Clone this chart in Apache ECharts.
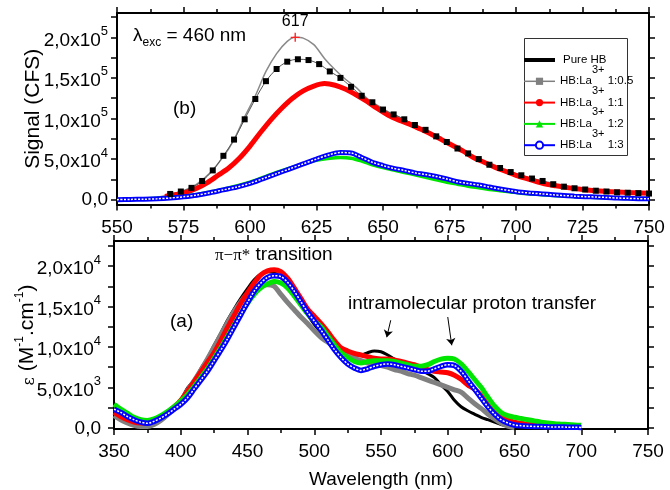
<!DOCTYPE html>
<html>
<head>
<meta charset="utf-8">
<title>HB:La3+ absorption / emission</title>
<script src="https://cdn.jsdelivr.net/npm/echarts@6.0.0/dist/echarts.min.js"></script>
<style>
  html, body { margin: 0; padding: 0; background: #fff; }
  #chart { width: 670px; height: 490px; }
</style>
</head>
<body>
<div id="chart"></div>
<script>
// ---- panel (b): emission, lambda exc = 460 nm ----
const emGrayX = [565, 570, 575, 580, 585, 590, 594, 598, 602, 606, 610, 614, 617, 620, 624, 628, 632, 636, 640, 644, 648, 652, 656, 660, 664, 668, 672, 676, 680, 684, 688, 692, 696, 700, 705, 710, 715, 720, 725, 730, 740, 750];
const emGrayY = [3000, 6000, 11000, 19000, 33000, 53000, 74000, 102000, 128000, 158000, 180000, 195000, 200000, 199000, 191000, 174000, 160000, 148000, 138000, 125000, 116000, 108000, 102000, 95000, 89000, 82000, 74000, 67000, 60000, 53000, 46000, 41000, 36000, 32000, 27000, 23000, 19000, 15000, 13000, 11000, 9000, 7500];

const emSqX = [570, 574, 578, 582, 586, 590, 594, 598, 602, 606, 610, 614, 618, 622, 626, 630, 634, 638, 642, 646, 650, 654, 658, 662, 666, 670, 674, 678, 682, 686, 690, 694, 698, 702, 706, 710, 714, 718, 722, 726, 730, 734, 738, 742, 746, 750];
const emSqY = [7000, 10000, 14500, 23000, 36000, 54000, 74000, 99000, 124000, 146000, 161000, 170000, 173000, 172000, 167000, 158000, 150000, 139000, 128000, 120000, 111000, 105000, 99000, 92000, 86000, 78000, 71000, 63000, 57000, 50000, 43000, 39000, 34000, 30000, 26000, 23000, 19000, 16000, 14000, 12500, 11000, 10000, 9000, 8500, 8000, 7500];

const emRedX = [568, 572, 576, 580, 584, 588, 592, 596, 600, 604, 608, 612, 616, 620, 624, 628, 632, 636, 640, 644, 648, 652, 656, 660, 664, 668, 672, 676, 680, 684, 688, 692, 696, 700, 705, 710, 715, 720, 725, 730, 740, 750];
const emRedY = [4000, 6000, 9000, 14000, 21000, 30000, 39000, 51000, 66000, 83000, 99000, 113000, 125000, 134000, 140000, 143000, 141000, 136000, 129000, 121000, 112000, 104000, 98000, 93000, 87000, 81000, 74000, 67000, 60000, 52000, 46000, 40000, 35000, 30000, 25000, 20000, 17000, 14500, 12500, 11000, 9000, 8000];

const emGreenX = [550, 560, 570, 580, 590, 600, 610, 620, 625, 630, 634, 638, 642, 646, 650, 654, 658, 662, 666, 670, 674, 678, 682, 686, 690, 694, 698, 702, 706, 710, 718, 726, 734, 742, 750];
const emGreenY = [0, 700, 2500, 6500, 13000, 21500, 33500, 44000, 48500, 51000, 52000, 51000, 47500, 43000, 39500, 36500, 33500, 30500, 27500, 24500, 21500, 19000, 16500, 14500, 12500, 11000, 9500, 8000, 7000, 6000, 4500, 3200, 2200, 1400, 900];

const emBlueX = [550, 555, 560, 565, 570, 575, 580, 585, 590, 595, 600, 605, 610, 615, 620, 625, 630, 634, 638, 642, 646, 650, 654, 658, 662, 666, 670, 674, 678, 682, 686, 690, 694, 698, 702, 706, 710, 714, 718, 722, 726, 730, 734, 738, 742, 746, 750];
const emBlueY = [0, 300, 500, 1000, 2000, 3500, 5500, 8500, 12000, 15500, 20000, 26000, 32000, 38000, 44000, 50000, 55500, 58000, 57500, 52000, 46000, 42000, 38500, 36000, 33000, 31000, 28500, 25500, 22000, 20000, 18000, 15500, 13000, 11000, 9000, 8000, 7000, 6000, 5000, 4300, 3700, 3200, 2700, 2000, 1600, 1200, 1000];

// ---- panel (a): absorption, epsilon ----
const abX = [350, 355, 360, 365, 370, 375, 380, 385, 390, 395, 400, 405, 410, 415, 420, 425, 430, 435, 440, 445, 450, 455, 460, 465, 470, 475, 480, 485, 490, 495, 500, 505, 510, 515, 520, 525, 530, 535, 540, 545, 550, 555, 560, 565, 570, 575, 580, 585, 590, 595, 600, 605, 610, 615, 620, 625, 630, 635, 640, 645, 650, 655, 660, 665, 670, 675, 680, 685, 690, 695, 700];
const abBlack = [1800, 1300, 900, 600, 400, 350, 500, 900, 1600, 2400, 3400, 4900, 5900, 7300, 8600, 10200, 11700, 13300, 14700, 16000, 17200, 18300, 19000, 19300, 19200, 18600, 17700, 16500, 15300, 14000, 12800, 11800, 10900, 10200, 9600, 9200, 9000, 9000, 9300, 9500, 9400, 9000, 8500, 8100, 7700, 7400, 7100, 6700, 6200, 5300, 4500, 3400, 2600, 2100, 1700, 1300, 1000, 700, 400, 200, 80, 0];
const abGray = [1500, 1000, 600, 300, 150, 150, 400, 900, 1600, 2400, 3300, 4600, 5800, 7100, 8500, 10000, 11500, 13000, 14400, 15600, 16600, 17200, 17600, 17700, 17500, 16500, 15500, 14600, 13700, 12900, 12000, 11200, 10600, 10000, 9400, 9000, 8600, 8300, 8000, 7800, 7700, 7500, 7200, 7000, 6700, 6500, 6200, 5900, 5600, 5300, 5000, 4700, 4400, 3700, 3000, 2400, 1700, 1100, 600, 200, 0];
const abRed = [1900, 1400, 1000, 700, 600, 600, 900, 1300, 1900, 2600, 3400, 4500, 5700, 6900, 8100, 9300, 10800, 12400, 13900, 15400, 16700, 17900, 18900, 19400, 19550, 19300, 18500, 17300, 16000, 14700, 13800, 12900, 11900, 10800, 9900, 9500, 9200, 9000, 8800, 8600, 8500, 8500, 8400, 8200, 8000, 7800, 7500, 7200, 7000, 6900, 6800, 6500, 6000, 5300, 4800, 4000, 3100, 2200, 1500, 1000, 700, 550, 450, 350, 300, 250, 200, 180, 150, 100, 50];
const abGreen = [2900, 2300, 1800, 1300, 1000, 900, 1100, 1500, 2000, 2600, 3300, 4100, 5100, 6200, 7300, 8600, 9900, 11300, 12700, 14100, 15400, 16500, 17300, 17800, 18100, 17900, 17300, 16300, 15200, 14100, 13200, 12500, 11400, 10300, 9300, 8700, 8200, 8000, 8200, 8300, 8300, 8300, 8200, 8000, 7800, 7600, 7600, 7800, 8200, 8500, 8600, 8500, 7900, 7000, 6000, 5000, 3800, 2700, 1900, 1500, 1300, 1150, 1000, 850, 700, 600, 500, 450, 400, 350, 300];
const abBlue = [2300, 1900, 1400, 1000, 700, 550, 800, 1200, 1700, 2300, 2900, 3700, 4800, 5900, 7000, 8300, 9600, 11000, 12500, 14000, 15500, 16900, 17900, 18600, 18800, 18700, 18000, 16900, 15600, 14300, 13200, 12100, 10900, 9700, 8700, 7900, 7400, 7100, 7300, 7600, 7800, 7900, 7800, 7600, 7400, 7200, 7000, 7000, 7300, 7600, 7800, 7700, 7000, 5900, 4800, 3700, 2600, 1700, 1000, 600, 350, 250, 200, 170, 150, 120, 100, 90, 80, 60, 50];

// tick positions
const emYTicks = [0, 25000, 50000, 75000, 100000, 125000, 150000, 175000, 200000, 225000];
const emYLabels = [0, 50000, 100000, 150000, 200000];
const abYTicks = [0, 2500, 5000, 7500, 10000, 12500, 15000, 17500, 20000, 22500];
const abYLabels = [0, 5000, 10000, 15000, 20000];

const FONT = 'Liberation Sans';
const zip = (xs, ys) => ys.map((y, i) => [xs[i], y]);

// superscript: small token pinned to the top of a taller line box
const richLabel = {
    b: { fontSize: 19, lineHeight: 20, verticalAlign: 'bottom', fontFamily: FONT, color: '#000' },
    s: { fontSize: 13, lineHeight: 25, verticalAlign: 'top', fontFamily: FONT, color: '#000' }
};

function sciLabel(v) {
    if (v === 0) return '{b|0,0}';
    const e = Math.floor(Math.log10(v) + 1e-9);
    const m = v / Math.pow(10, e);
    return '{b|' + m.toFixed(1).replace('.', ',') + 'x10}{s|' + e + '}';
}

function xPair(grid, min, max, interval, margin, name) {
    const common = {
        type: 'value', gridIndex: grid, min: min, max: max, interval: interval,
        axisLine: { show: true, onZero: false, lineStyle: { color: '#000', width: 2 } },
        axisTick: { show: true, length: 6, lineStyle: { color: '#000', width: 1.5 } },
        minorTick: { show: true, splitNumber: 2, length: 4, lineStyle: { color: '#000', width: 1.5 } },
        splitLine: { show: false },
        minorSplitLine: { show: false }
    };
    const bottom = Object.assign({}, common, {
        position: 'bottom',
        axisLabel: { fontSize: 19, fontFamily: FONT, color: '#000', margin: margin }
    });
    if (name) {
        bottom.name = name;
        bottom.nameLocation = 'middle';
        bottom.nameGap = 41;
        bottom.nameMoveOverlap = false;
        bottom.nameTextStyle = { fontSize: 19, fontFamily: FONT, color: '#000' };
    }
    const top = Object.assign({}, common, { position: 'top', axisLabel: { show: false } });
    return [bottom, top];
}

function yPair(grid, min, max, ticks, labels, margin, name, nameGap, nameStyle) {
    const common = {
        type: 'value', gridIndex: grid, min: min, max: max,
        axisLine: { show: true, onZero: false, lineStyle: { color: '#000', width: 2 } },
        axisTick: { show: true, length: 6, customValues: ticks, lineStyle: { color: '#000', width: 1.5 } },
        splitLine: { show: false }
    };
    const left = Object.assign({}, common, {
        position: 'left',
        axisLabel: { customValues: labels, formatter: sciLabel, rich: richLabel, margin: margin },
        name: name, nameLocation: 'middle', nameRotate: 90, nameGap: nameGap,
        nameMoveOverlap: false,
        nameTextStyle: nameStyle
    });
    const right = Object.assign({}, common, { position: 'right', axisLabel: { show: false } });
    return [left, right];
}

const chart = echarts.init(document.getElementById('chart'));

const option = {
    animation: false,
    backgroundColor: '#fff',
    grid: [
        { left: 117, right: 21, top: 13, height: 191.5 },
        { left: 114, right: 22, top: 241, height: 189.5 }
    ],
    xAxis: [].concat(
        xPair(0, 550, 750, 25, 14),
        xPair(1, 350, 750, 50, 13, 'Wavelength (nm)')
    ),
    yAxis: [].concat(
        yPair(0, -6000, 230000, emYTicks, emYLabels, 9, 'Signal (CFS)', 73,
            { fontSize: 21, fontFamily: FONT, color: '#000' }),
        yPair(1, -150, 23100, abYTicks, abYLabels, 13, '{e|ε}{b| (M}{s|-1}{b|.cm}{s|-1}{b|)}', 76,
            {
                rich: {
                    e: { fontSize: 16, fontFamily: 'DejaVu Serif', color: '#000', lineHeight: 20, verticalAlign: 'bottom' },
                    b: { fontSize: 21, fontFamily: FONT, color: '#000', lineHeight: 20, verticalAlign: 'bottom' },
                    s: { fontSize: 12, fontFamily: FONT, color: '#000', lineHeight: 24, verticalAlign: 'top' }
                }
            })
    ),
    legend: {
        orient: 'vertical',
        left: 522,
        top: 43,
        padding: 0,
        itemWidth: 31,
        itemHeight: 9,
        itemGap: -1.7,
        selectedMode: false,
        data: [
            { name: 'Pure HB', lineStyle: { width: 4 }, itemStyle: { opacity: 0, color: 'rgba(0,0,0,0)', borderWidth: 0 } },
            { name: 'HB:La 1:0.5', lineStyle: { width: 1.5 } },
            { name: 'HB:La 1:1', lineStyle: { width: 2 } },
            { name: 'HB:La 1:2', lineStyle: { width: 2 } },
            { name: 'HB:La 1:3', lineStyle: { width: 2 } }
        ],
        formatter: function (name) {
            if (name === 'Pure HB') return '{s| }{b|Pure HB}';
            return '{b|HB:La}{s|3+}{b| ' + name.split(' ')[1] + '}';
        },
        textStyle: {
            rich: {
                b: { fontSize: 11.5, lineHeight: 14, verticalAlign: 'middle', fontFamily: FONT, color: '#000' },
                s: { fontSize: 11, lineHeight: 34, verticalAlign: 'top', fontFamily: FONT, color: '#000' }
            }
        }
    },
    graphic: [
        { type: 'rect', left: 522, top: 36, shape: { width: 103, height: 117 }, style: { fill: 'none', stroke: '#333', lineWidth: 1 }, silent: true },
        {
            type: 'text', left: 133, top: 26, silent: true,
            style: {
                text: '{b|λ}{u|exc}{b| = 460 nm}',
                rich: {
                    b: { fontSize: 19, lineHeight: 20, verticalAlign: 'top', fontFamily: FONT, fill: '#000' },
                    u: { fontSize: 12, lineHeight: 12, padding: [11, 0, 0, 0], verticalAlign: 'top', fontFamily: FONT, fill: '#000' }
                }
            }
        },
        { type: 'text', left: 173, top: 99, silent: true, style: { text: '(b)', fontSize: 19, fontFamily: FONT, fill: '#000' } },
        { type: 'text', left: 170, top: 312, silent: true, style: { text: '(a)', fontSize: 19, fontFamily: FONT, fill: '#000' } },
        {
            type: 'text', left: 215, top: 245, silent: true,
            style: {
                text: '{g|π−π*}{b| transition}',
                rich: {
                    g: { fontSize: 17, fontFamily: 'Liberation Serif', fill: '#000', lineHeight: 20, verticalAlign: 'bottom' },
                    b: { fontSize: 19, fontFamily: FONT, fill: '#000', lineHeight: 20, verticalAlign: 'bottom' }
                }
            }
        },
        { type: 'text', left: 348, top: 294, silent: true, style: { text: 'intramolecular proton transfer', fontSize: 19, fontFamily: FONT, fill: '#000' } }
    ],
    series: [
        // ---- emission ----
        {
            name: 'em-gray', type: 'line', xAxisIndex: 0, yAxisIndex: 0, data: zip(emGrayX, emGrayY),
            symbol: 'none', smooth: 0.3, lineStyle: { color: '#8a8a8a', width: 1.5 },
            markPoint: {
                silent: true,
                symbol: 'path://M3.4,0H4.6V8H3.4Z M0,3.4H8V4.6H0Z',
                symbolSize: 9,
                itemStyle: { color: '#ff2020' },
                label: { show: true, position: 'top', distance: 3, formatter: '617', fontSize: 16, fontFamily: FONT, color: '#000' },
                data: [{ coord: [617, 200000] }]
            }
        },
        {
            name: 'em-sq', type: 'line', xAxisIndex: 0, yAxisIndex: 0, data: zip(emSqX, emSqY),
            symbol: 'rect', symbolSize: 6, smooth: 0.3,
            itemStyle: { color: '#000' }, lineStyle: { color: '#555', width: 1 }
        },
        {
            name: 'em-red', type: 'line', xAxisIndex: 0, yAxisIndex: 0, data: zip(emRedX, emRedY),
            symbol: 'none', smooth: 0.3, lineStyle: { color: '#ff0000', width: 5 }
        },
        {
            name: 'em-green', type: 'line', xAxisIndex: 0, yAxisIndex: 0, data: zip(emGreenX, emGreenY),
            symbol: 'none', smooth: 0.3, lineStyle: { color: '#00e600', width: 3.5 }
        },
        {
            name: 'em-blue', type: 'line', xAxisIndex: 0, yAxisIndex: 0, data: zip(emBlueX, emBlueY),
            symbol: 'none', smooth: 0.3, lineStyle: { color: '#0000ff', width: 5 }
        },
        {
            name: 'em-blue-core', type: 'line', xAxisIndex: 0, yAxisIndex: 0, data: zip(emBlueX, emBlueY),
            symbol: 'none', smooth: 0.3, silent: true, lineStyle: { color: '#fff', width: 1.5, type: [2, 1.5] }
        },
        // ---- absorption ----
        {
            name: 'Pure HB', type: 'line', xAxisIndex: 2, yAxisIndex: 2, data: zip(abX, abBlack),
            symbol: 'none', smooth: 0.3, itemStyle: { color: '#000' }, lineStyle: { color: '#000', width: 3 },
            markLine: {
                silent: true, symbol: ['none', 'arrow'], symbolSize: 7,
                label: { show: false },
                lineStyle: { color: '#000', width: 1, type: 'solid' },
                data: [
                    [{ coord: [557.3, 13300] }, { coord: [554.3, 11200] }],
                    [{ coord: [600.0, 13700] }, { coord: [603.0, 10200] }]
                ]
            }
        },
        {
            name: 'HB:La 1:0.5', type: 'line', xAxisIndex: 2, yAxisIndex: 2, data: zip(abX, abGray),
            symbol: 'rect', showSymbol: false, smooth: 0.3,
            itemStyle: { color: '#808080' }, lineStyle: { color: '#808080', width: 5 }
        },
        {
            name: 'HB:La 1:1', type: 'line', xAxisIndex: 2, yAxisIndex: 2, data: zip(abX, abRed),
            symbol: 'circle', showSymbol: false, smooth: 0.3,
            itemStyle: { color: '#ff0000' }, lineStyle: { color: '#ff0000', width: 5 }
        },
        {
            name: 'HB:La 1:2', type: 'line', xAxisIndex: 2, yAxisIndex: 2, data: zip(abX, abGreen),
            symbol: 'triangle', showSymbol: false, smooth: 0.3,
            itemStyle: { color: '#00e600' }, lineStyle: { color: '#00e600', width: 5 }
        },
        {
            name: 'HB:La 1:3', type: 'line', xAxisIndex: 2, yAxisIndex: 2, data: zip(abX, abBlue),
            symbol: 'emptyCircle', showSymbol: false, smooth: 0.3,
            itemStyle: { color: '#0000ff' }, lineStyle: { color: '#0000ff', width: 5.5 }
        },
        {
            name: 'ab-blue-core', type: 'line', xAxisIndex: 2, yAxisIndex: 2, data: zip(abX, abBlue),
            symbol: 'none', smooth: 0.3, silent: true, lineStyle: { color: '#fff', width: 1.5, type: [2, 1.5] }
        }
    ]
};

chart.setOption(option);
</script>
</body>
</html>
